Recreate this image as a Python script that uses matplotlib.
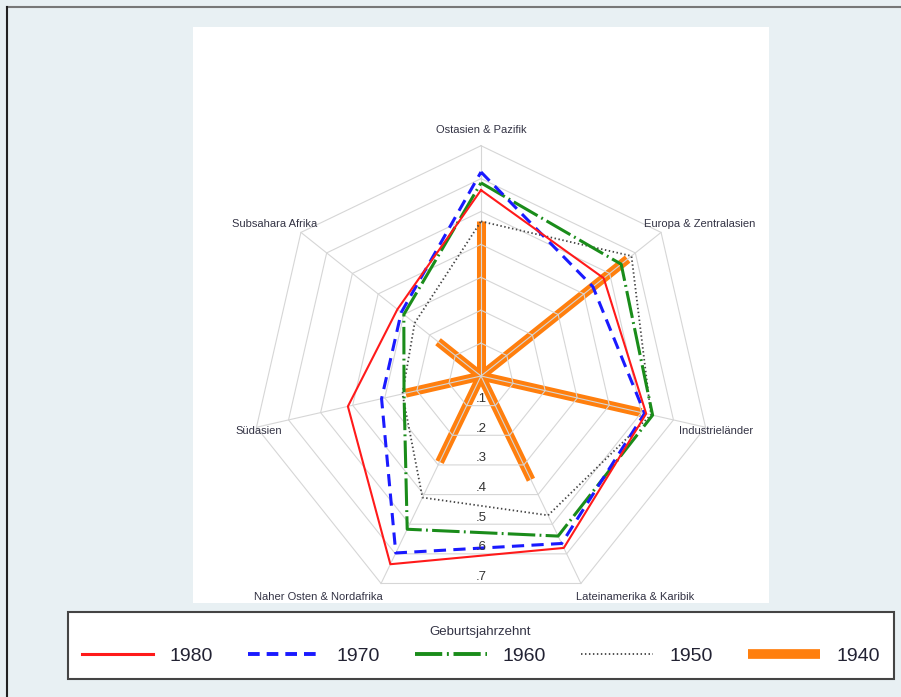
import numpy as np
import matplotlib as mpl
from matplotlib import pyplot as plt
from matplotlib.lines import Line2D

mpl.rcParams['font.family'] = ['Liberation Sans', 'DejaVu Sans']

# ===================== Data =====================
regions = ["Ostasien & Pazifik", "Europa & Zentralasien", "Industrieländer",
           "Lateinamerika & Karibik", "Naher Osten & Nordafrika", "Südasien",
           "Subsahara Afrika"]
v1980 = [0.565, 0.477, 0.515, 0.58, 0.635, 0.415, 0.325]
v1970 = [0.62, 0.435, 0.51, 0.565, 0.597, 0.31, 0.31]
v1960 = [0.587, 0.545, 0.535, 0.54, 0.517, 0.24, 0.30]
v1950 = [0.47, 0.585, 0.53, 0.47, 0.41, 0.245, 0.258]
v1940 = [0.47, 0.57, 0.50, 0.35, 0.29, 0.235, 0.167]
ring_values = [0.1, 0.2, 0.3, 0.4, 0.5, 0.6, 0.7]
ring_labels = [".1", ".2", ".3", ".4", ".5", ".6", ".7"]
legend_title = "Geburtsjahrzehnt"

# label positions (layout, in value units around the centre)
label_xy = [(0.0, 0.748), (0.666, 0.462), (0.714, -0.167), (0.468, -0.672),
            (-0.495, -0.672), (-0.675, -0.167), (-0.626, 0.462)]

W, H = 901, 697
fig = plt.figure(figsize=(W / 100, H / 100), dpi=100)
fig.patch.set_facecolor('#e8f0f3')

# outer frame (top + left)
fig.add_artist(Line2D([7 / W, 1], [1 - 7 / H, 1 - 7 / H], color='#777777', lw=1.5))
fig.add_artist(Line2D([7 / W, 7 / W], [0, 1 - 7 / H], color='#222222', lw=1.5))

# plot region: 193..769 x 27..603 px, centre at (481, 376)
ax = fig.add_axes([193 / W, 1 - 603 / H, 576 / W, 576 / H])
ax.set_facecolor('white')
scale = 329.0
ax.set_xlim((193 - 481) / scale, (769 - 481) / scale)
ax.set_ylim((376 - 603) / scale, (376 - 27) / scale)
ax.set_aspect('equal')
ax.axis('off')
ax.add_patch(plt.Rectangle((0, 0), 1, 1, transform=ax.transAxes,
                           fc='white', ec='none', zorder=0))

n = len(regions)
angles = np.pi / 2 - np.arange(n) * 2 * np.pi / n
ca, sa = np.cos(angles), np.sin(angles)

# ===== Grid =====
grid_kw = dict(color='#d6d6d6', lw=0.8, zorder=2)
rmax = max(ring_values)
for r in ring_values:
    ax.plot(np.append(r * ca, r * ca[0]), np.append(r * sa, r * sa[0]), **grid_kw)
for i in range(n):
    ax.plot([0, rmax * ca[i]], [0, rmax * sa[i]], **grid_kw)

# ring value labels along the downward direction
for r, lab in zip(ring_values, ring_labels):
    ax.text(0, -r * np.cos(np.pi / n) + 0.02, lab, ha='center', va='center',
            fontsize=9.5, color='#333333', zorder=5)

# axis labels
for name, (lx, ly) in zip(regions, label_xy):
    ax.text(lx, ly, name, ha='center', va='center', fontsize=8,
            color='#333344', zorder=5)

# ===== Series =====
def closed(v):
    v = np.asarray(v)
    x, y = v * ca, v * sa
    return np.append(x, x[0]), np.append(y, y[0])

# 1940 drawn as spokes from the centre
v = np.asarray(v1940)
for i in range(n):
    ax.plot([0, v[i] * ca[i]], [0, v[i] * sa[i]], color='#ff7f0e',
            lw=6.5, solid_capstyle='butt', zorder=1)

x, y = closed(v1950)
ax.plot(x, y, color='#444444', lw=1.3, ls=(0, (0.8, 1.4)), zorder=3)
x, y = closed(v1960)
ax.plot(x, y, color='#1a8c1a', lw=2.2, ls=(0, (9, 1.4, 0.6, 1.4)), zorder=3)
x, y = closed(v1970)
ax.plot(x, y, color='#1a1aff', lw=2.2, ls=(0, (4, 2.4)), zorder=3)
x, y = closed(v1980)
ax.plot(x, y, color='#ff1a1a', lw=1.5, zorder=4)

# ===== Legend =====
handles = [
    Line2D([], [], color='#ff1a1a', lw=2.2),
    Line2D([], [], color='#1a1aff', lw=2.8, ls=(0, (3, 1.8))),
    Line2D([], [], color='#1a8c1a', lw=2.8, ls=(0, (7, 1.2, 0.5, 1.2))),
    Line2D([], [], color='#444444', lw=1.3, ls=(0, (0.8, 1.4))),
    Line2D([], [], color='#ff7f0e', lw=7, solid_capstyle='butt'),
]
labels = ["1980", "1970", "1960", "1950", "1940"]
leg = fig.legend(handles, labels, title=legend_title, ncol=5,
                 loc='center', bbox_to_anchor=(480.5 / W, 1 - 645.5 / H),
                 fontsize=14, title_fontsize=9.5, handlelength=3.7,
                 handletextpad=0.82, columnspacing=1.82, borderpad=0.72,
                 frameon=True, fancybox=False, framealpha=1)
leg.get_frame().set_edgecolor('#444444')
leg.get_frame().set_linewidth(1.5)
leg.get_title().set_color('#333344')
for t in leg.get_texts():
    t.set_color('#222233')

fig.savefig('out.png', dpi=100, facecolor=fig.get_facecolor())
